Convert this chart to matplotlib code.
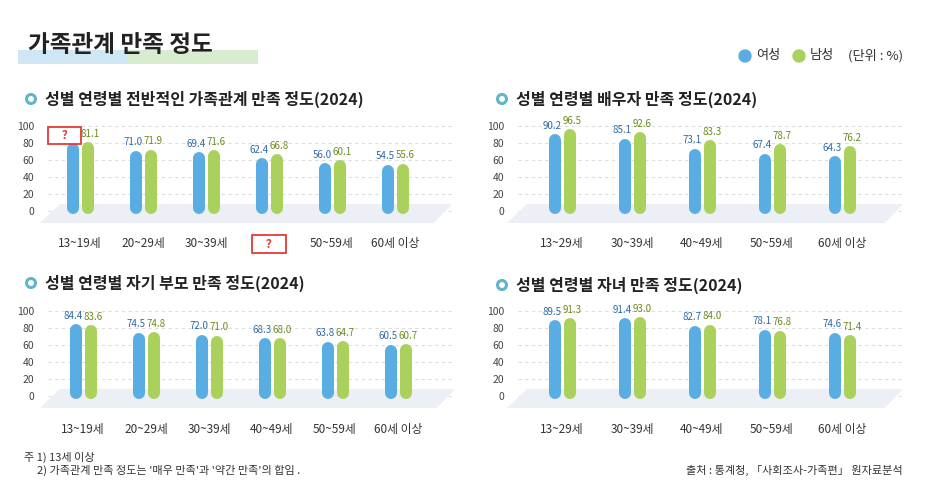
import matplotlib
matplotlib.use("Agg")
import matplotlib.pyplot as plt
from matplotlib import font_manager as fm
from matplotlib.patches import Polygon, Ellipse, Rectangle
import numpy as np

names = sorted({f.name for f in fm.fontManager.ttflist if "CJK" in f.name})
kr = [n for n in names if "KR" in n] + names
plt.rcParams["font.family"] = "sans-serif"
plt.rcParams["font.sans-serif"] = kr + ["DejaVu Sans"]

cats6 = ["13~19세", "20~29세", "30~39세", "?", "50~59세", "60세 이상"]
cats6b = ["13~19세", "20~29세", "30~39세", "40~49세", "50~59세", "60세 이상"]
cats5 = ["13~29세", "30~39세", "40~49세", "50~59세", "60세 이상"]

tl_f = [79.5, 71.0, 69.4, 62.4, 56.0, 54.5]
tl_m = [81.1, 71.9, 71.6, 66.8, 60.1, 55.6]
tl_f_lab = ["?", "71.0", "69.4", "62.4", "56.0", "54.5"]
tr_f = [90.2, 85.1, 73.1, 67.4, 64.3]
tr_m = [96.5, 92.6, 83.3, 78.7, 76.2]
bl_f = [84.4, 74.5, 72.0, 68.3, 63.8, 60.5]
bl_m = [83.6, 74.8, 71.0, 68.0, 64.7, 60.7]
br_f = [89.5, 91.4, 82.7, 78.1, 74.6]
br_m = [91.3, 93.0, 84.0, 76.8, 71.4]

BLUE = "#5aade3"
GREEN = "#a9d15b"
BLUE_T = "#2f6aa8"
GREEN_T = "#6a8c1e"
W, H = 925, 500
fig = plt.figure(figsize=(9.25, 5), dpi=100)
fig.patch.set_facecolor("white")

def fx(px): return px / W
def fy(py): return 1 - py / H

def dot(px, py, d, **kw):
    fig.add_artist(Ellipse((fx(px), fy(py)), d / W, d / H, transform=fig.transFigure, **kw))

# header
fig.add_artist(Rectangle((fx(18), fy(64)), fx(240), 14 / H, transform=fig.transFigure,
                         facecolor="#d8ecd0", edgecolor="none", zorder=0))
fig.add_artist(Rectangle((fx(18), fy(64)), fx(110), 14 / H, transform=fig.transFigure,
                         facecolor="#cfe6f4", edgecolor="none", zorder=0))
fig.text(fx(28), fy(45), "가족관계 만족 정도", fontsize=17, fontweight="bold", va="center", color="#222")
# legend
dot(745, 56, 12, color=BLUE)
fig.text(fx(756), fy(56), "여성", fontsize=9.5, va="center", color="#333")
dot(799, 56, 12, color=GREEN)
fig.text(fx(810), fy(56), "남성", fontsize=9.5, va="center", color="#333")
fig.text(fx(848), fy(56), "(단위 : %)", fontsize=9.5, va="center", color="#333")

PPU = 0.85
QS = "\u3000?\u3000"

def panel(title, tx, ty, cats, fem, mal, flabs, left, right, x0, dx, y0, floor, qbox=None):
    ax = fig.add_axes([fx(left), fy(y0 + 14), fx(right - left), (14 + 100) / H])
    ax.set_ylim(-14 / PPU, 100 / PPU)
    ax.set_xlim((left - x0) / dx, (right - x0) / dx)
    for s in ax.spines.values():
        s.set_visible(False)
    def dxp(px): return (px - x0) / dx
    def dyp(py): return (y0 - py) / PPU
    fl, frt = floor
    ax.add_patch(Polygon([(dxp(fl), dyp(y0 + 12)), (dxp(fl + 20), dyp(y0 - 7)),
                          (dxp(frt), dyp(y0 - 7)), (dxp(frt - 18), dyp(y0 + 12))],
                         closed=True, facecolor="#eceff5", edgecolor="none", zorder=1, clip_on=False))
    ax.set_yticks([0, 20, 40, 60, 80, 100])
    ax.tick_params(axis="y", length=0, labelsize=7.5, colors="#444", pad=10)
    ax.yaxis.grid(True, linestyle=(0, (3, 3)), color="#dddddd", linewidth=0.8)
    ax.set_axisbelow(True)
    idx = np.arange(len(cats))
    ax.set_xticks(idx)
    ax.set_xticklabels([QS if c == "?" else c for c in cats], fontsize=8.5, color="#333")
    ax.tick_params(axis="x", length=0, pad=9)
    if qbox is not None:
        lab = ax.get_xticklabels()[qbox]
        lab.set_color("#e53935")
        lab.set_fontweight("bold")
        lab.set_bbox(dict(boxstyle="square,pad=0.2", facecolor="white", edgecolor="#e53935", linewidth=1.3))
    off = 7.5 / dx
    loff = 10 / dx
    r = 6 / PPU
    lw = 12 * 72 / 100
    for i in idx:
        ax.plot([i - off, i - off], [-3 + r, fem[i] - r], color=BLUE, lw=lw, solid_capstyle="round", zorder=3)
        ax.plot([i + off, i + off], [-3 + r, mal[i] - r], color=GREEN, lw=lw, solid_capstyle="round", zorder=3)
        if flabs[i] == "?":
            ax.text(i - off - 8 / dx, mal[i] + 8, QS, ha="center", va="center", fontsize=8.5,
                    color="#e53935", fontweight="bold",
                    bbox=dict(boxstyle="square,pad=0.15", facecolor="white", edgecolor="#e53935", linewidth=1.3))
        else:
            ax.text(i - loff, fem[i] + 4, flabs[i], ha="center", va="bottom", fontsize=7, color=BLUE_T)
        ax.text(i + loff, mal[i] + 4, f"{mal[i]:.1f}", ha="center", va="bottom", fontsize=7, color=GREEN_T)
    dot(tx, ty, 9, facecolor="white", edgecolor="#5fb6c8", linewidth=2.2)
    fig.text(fx(tx + 14), fy(ty), title, fontsize=11.5, fontweight="bold", va="center", color="#222")

panel("성별 연령별 전반적인 가족관계 만족 정도(2024)", 31, 99, cats6, tl_f, tl_m, tl_f_lab,
      48, 455, 80, 63, 211, (40, 452), qbox=3)
panel("성별 연령별 배우자 만족 정도(2024)", 502, 99, cats5, tr_f, tr_m, [f"{v:.1f}" for v in tr_f],
      518, 905, 562, 70, 211, (507, 903))
panel("성별 연령별 자기 부모 만족 정도(2024)", 31, 283, cats6b, bl_f, bl_m, [f"{v:.1f}" for v in bl_f],
      48, 455, 83, 63, 396, (40, 455))
panel("성별 연령별 자녀 만족 정도(2024)", 502, 285, cats5, br_f, br_m, [f"{v:.1f}" for v in br_f],
      518, 905, 562, 70, 396, (507, 903))

fig.text(fx(24), fy(457), "주 1) 13세 이상", fontsize=8, va="center", color="#333")
fig.text(fx(37), fy(470), "2) 가족관계 만족 정도는 '매우 만족'과 '약간 만족'의 합임 .", fontsize=8, va="center", color="#333")
fig.text(fx(903), fy(470), "출처 : 통계청, 「사회조사-가족편」 원자료분석", fontsize=8, va="center", ha="right", color="#333")

fig.savefig("out.png", dpi=100, facecolor="white")
